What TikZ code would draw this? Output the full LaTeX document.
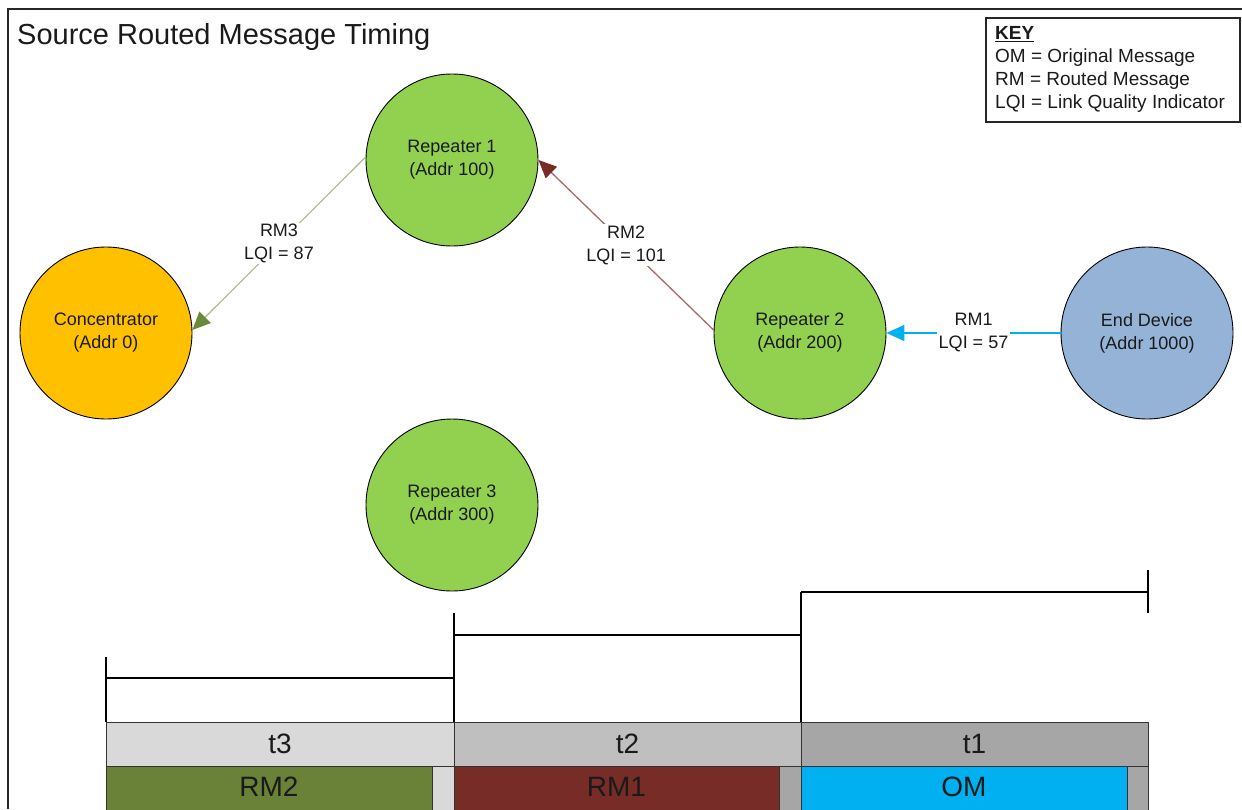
\documentclass[tikz,border=0pt]{standalone}
\usepackage{fontspec}
\setmainfont{Liberation Sans}
\usetikzlibrary{arrows.meta}

\definecolor{repgreen}{HTML}{92D050}
\definecolor{concorange}{HTML}{FFC000}
\definecolor{devblue}{HTML}{95B3D7}
\definecolor{rmthreeline}{HTML}{B5BD9A}
\definecolor{rmthreehead}{HTML}{6A8A3A}
\definecolor{rmtwoline}{HTML}{A86A66}
\definecolor{rmtwohead}{HTML}{7A2A25}
\definecolor{rmoneline}{HTML}{00B0F0}
\definecolor{slotthree}{HTML}{D9D9D9}
\definecolor{slottwo}{HTML}{BFBFBF}
\definecolor{slotone}{HTML}{A6A6A6}
\definecolor{msggreen}{HTML}{6A8238}
\definecolor{msgred}{HTML}{772C28}
\definecolor{msgblue}{HTML}{00B0F0}
\definecolor{txt}{HTML}{1A1A1A}

\newcommand{\smallfs}{\fontsize{18}{23}\selectfont}
\newcommand{\keyfs}{\fontsize{19}{23}\selectfont}
\newcommand{\barfs}{\fontsize{28}{32}\selectfont}

\tikzset{
  device/.style={circle, draw=black, line width=0.9pt, minimum size=172pt,
    inner sep=0pt, align=center, text=txt, font=\smallfs},
  linklabel/.style={fill=white, inner sep=1.5pt, align=center, text=txt,
    font=\smallfs},
  link/.style={line width=1.3pt},
  slot/.style={draw=black!80, line width=1pt},
  bracket/.style={line width=1.5pt, draw=black},
  bartext/.style={text=txt, font=\barfs},
  keyline/.style={anchor=west, inner sep=0pt, text=txt, font=\keyfs}
}

\begin{document}
\begin{tikzpicture}[x=1pt, y=-1pt]
\useasboundingbox (0,0) rectangle (1242,809);

% outer frame (top and left edges)
\draw[line width=1.5pt, draw=black!85] (1242,9) -- (8,9) -- (8,809);

% title
\node[anchor=west, inner sep=0pt, text=txt, font=\fontsize{29}{33}\selectfont]
  (title) at (17,37) {Source Routed Message Timing};

% key box
\draw[line width=1.5pt, draw=black!85] (986,18) rectangle (1240,122);
\node[keyline, font=\keyfs\bfseries] (key) at (995,34) {\underline{KEY}};
\node[keyline] (keyom) at (995,58) {OM = Original Message};
\node[keyline] (keyrm) at (995,81) {RM = Routed Message};
\node[keyline] (keylqi) at (995,104) {LQI = Link Quality Indicator};

% devices
\node[device, fill=repgreen] (rep1) at (452,160) {Repeater 1\\(Addr 100)};
\node[device, fill=concorange] (conc) at (106,333) {Concentrator\\(Addr 0)};
\node[device, fill=repgreen] (rep2) at (800,333) {Repeater 2\\(Addr 200)};
\node[device, fill=devblue] (enddev) at (1147,333) {End Device\\(Addr 1000)};
\node[device, fill=repgreen] (rep3) at (452,505) {Repeater 3\\(Addr 300)};

% routed links
\draw[link, draw=rmoneline,
  -{Triangle[length=18pt, width=16pt, color=rmoneline]}]
  (enddev.180) -- node[linklabel] (lbl1) {RM1\\LQI = 57} (rep2.0);
\draw[link, draw=rmtwoline,
  -{Triangle[length=18pt, width=16pt, color=rmtwohead]}]
  (rep2.178) -- node[linklabel] (lbl2) {RM2\\LQI = 101} (rep1.0);
\draw[link, draw=rmthreeline,
  -{Triangle[length=18pt, width=16pt, color=rmthreehead]}]
  (rep1.178) -- node[linklabel] (lbl3) {RM3\\LQI = 87} (conc.2);

% timing brackets
\draw[bracket] (106,657) -- (106,722);
\draw[bracket] (106,678) -- (454,678);
\draw[bracket] (454,613) -- (454,722);
\draw[bracket] (454,635) -- (801,635);
\draw[bracket] (801,592) -- (801,722);
\draw[bracket] (801,592) -- (1148,592);
\draw[bracket] (1148,570) -- (1148,613);

% time slots
\draw[slot, fill=slotthree] (106,722) rectangle (454,766);
\node[bartext] (t3) at (280,744) {t3};
\draw[slot, fill=slottwo] (454,722) rectangle (801,766);
\node[bartext] (t2) at (627.5,744) {t2};
\draw[slot, fill=slotone] (801,722) rectangle (1148,766);
\node[bartext] (t1) at (974.5,744) {t1};

% messages within each slot
\draw[slot, fill=slotthree] (106,766) rectangle (454,812);
\draw[slot, fill=msggreen] (106,766) rectangle (432,812);
\node[bartext] (m2) at (269,787) {RM2};
\draw[slot, fill=slotone] (454,766) rectangle (801,812);
\draw[slot, fill=msgred] (454,766) rectangle (779,812);
\node[bartext] (m1) at (616.5,787) {RM1};
\draw[slot, fill=slotone] (801,766) rectangle (1148,812);
\draw[slot, fill=msgblue] (801,766) rectangle (1127,812);
\node[bartext] (om) at (964,787) {OM};
\end{tikzpicture}
\end{document}
